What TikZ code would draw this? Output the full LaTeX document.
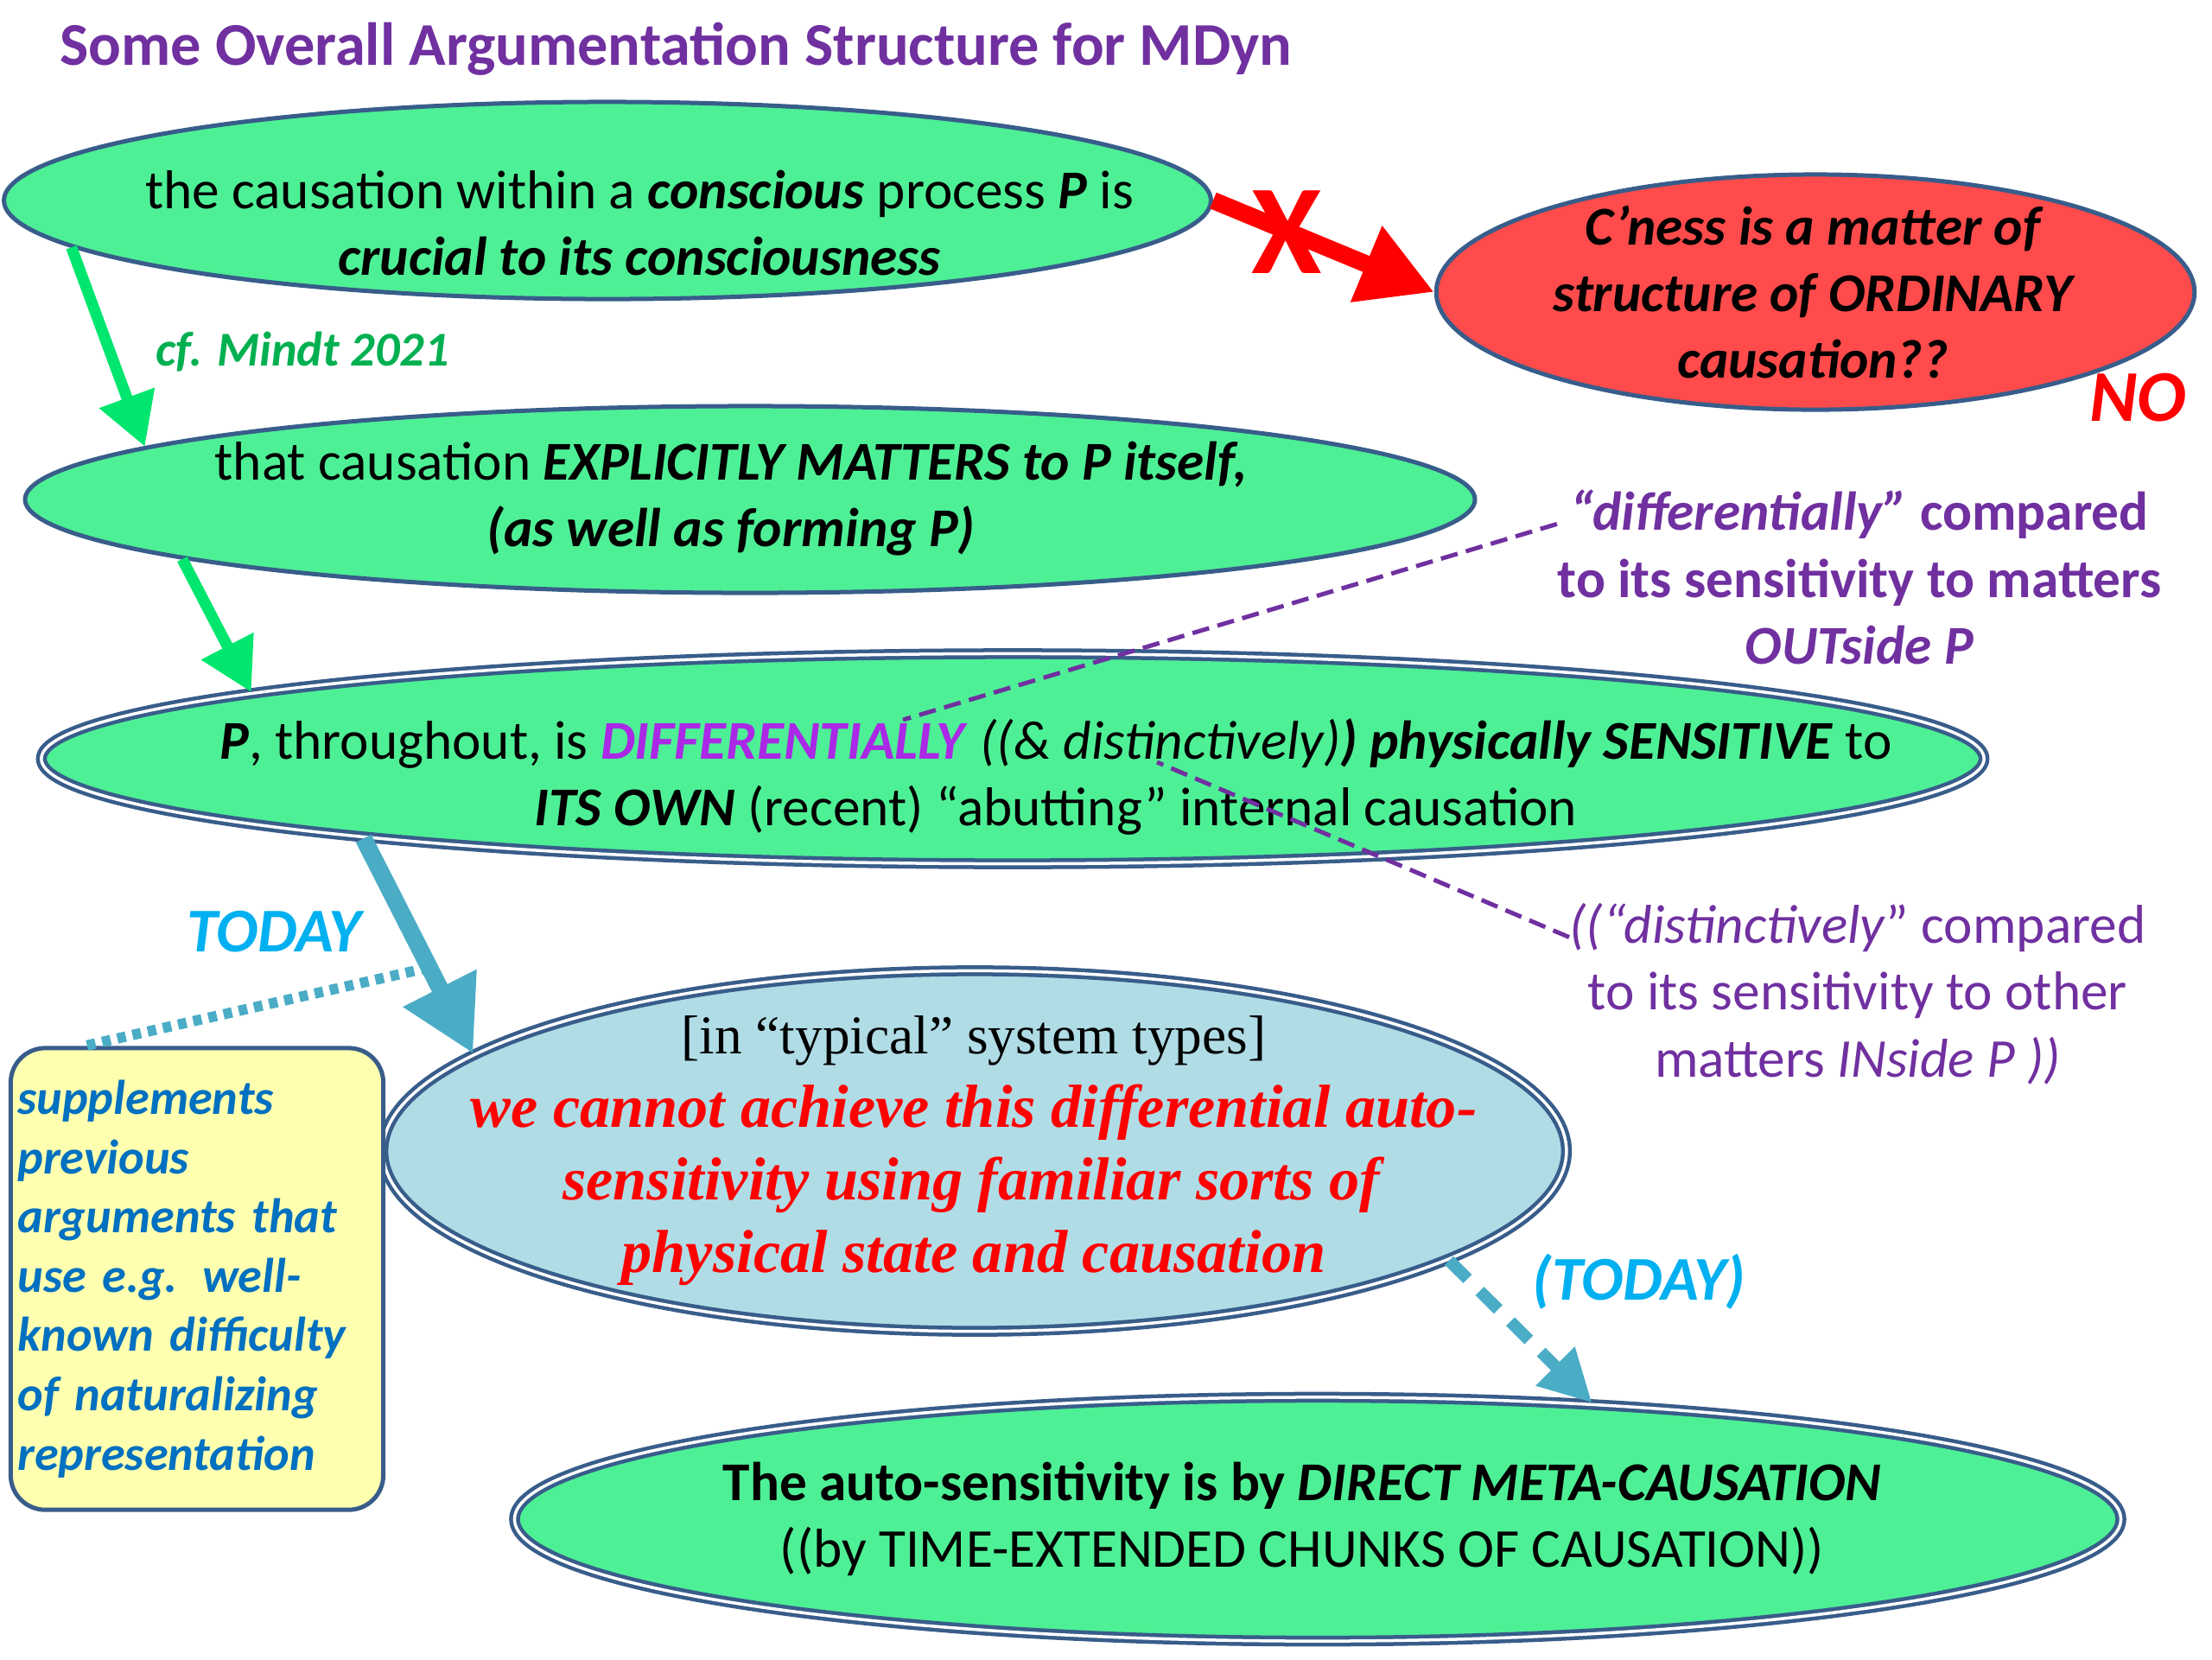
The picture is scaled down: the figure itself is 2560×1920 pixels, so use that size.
\documentclass[tikz,border=0pt]{standalone}
\usepackage{fontspec}
\setmainfont{Carlito}
\newfontfamily\timesfont{Liberation Serif}
\usetikzlibrary{arrows.meta,shapes.geometric}

\definecolor{edgeblue}{RGB}{56,93,138}
\definecolor{greenfill}{RGB}{78,240,150}
\definecolor{redfill}{RGB}{255,75,75}
\definecolor{bluefill}{RGB}{176,220,230}
\definecolor{yellowfill}{RGB}{255,255,176}
\definecolor{notepurple}{RGB}{112,48,160}
\definecolor{violetword}{RGB}{170,40,230}
\definecolor{mindtgreen}{RGB}{0,176,80}
\definecolor{arrowgreen}{RGB}{0,230,110}
\definecolor{arrowblue}{RGB}{75,172,198}
\definecolor{todayblue}{RGB}{0,176,240}
\definecolor{suppblue}{RGB}{0,112,192}

\begin{document}
\begin{tikzpicture}[x=0.01cm,y=-0.01cm,
    ell/.style={ellipse, draw=edgeblue, line width=0.05cm, inner sep=0pt},
    dbl/.style={ellipse, draw=edgeblue, line width=0.045cm, double=white, double distance=0.035cm, inner sep=0pt},
    body/.style={align=center, inner sep=0pt, font=\fontsize{18}{22}\selectfont},
    note/.style={align=center, inner sep=0pt, text=notepurple, font=\fontsize{18}{22}\selectfont},
    bigarrow/.style={line width=0.2cm, -{Triangle[length=0.85cm,width=0.9cm]}},
    greenarrow/.style={draw=arrowgreen, line width=0.13cm, -{Triangle[length=0.6cm,width=0.65cm]}},
    dashline/.style={draw=notepurple, line width=0.05cm, dash pattern=on 0.2cm off 0.1cm}]

\useasboundingbox (0,0) rectangle (2560,1920);

% Title
\node[anchor=west, inner sep=0pt, text=notepurple, font=\fontsize{20}{24}\selectfont\bfseries] (title) at (69,57)
  {Some Overall Argumentation Structure for MDyn};

% Ellipses
\node[ell, fill=greenfill, minimum width=13.96cm, minimum height=2.28cm] (crucial) at (703,232) {};
\node[ell, fill=redfill, minimum width=8.77cm, minimum height=2.72cm] (ordinary) at (2101,338) {};
\node[ell, fill=greenfill, minimum width=16.77cm, minimum height=2.16cm] (matters) at (868,578) {};
\node[dbl, fill=greenfill, minimum width=22.47cm, minimum height=2.43cm] (sensitive) at (1172,878) {};
\node[dbl, fill=bluefill, minimum width=13.69cm, minimum height=4.17cm] (cannot) at (1128,1332) {};
\node[dbl, fill=greenfill, minimum width=18.58cm, minimum height=2.82cm] (metacause) at (1525,1758) {};

% Texts in the ellipses
\node[body] (crucialtxt) at (740,258)
  {the causation within a \textbf{\textit{conscious}} process \textbf{\textit{P}} is\\
   \textbf{\textit{crucial to its consciousness}}};
\node[body, font=\fontsize{18}{22}\selectfont\bfseries\itshape] (ordinarytxt) at (2098,338)
  {C’ness is a matter of\\ structure of ORDINARY\\ causation??};
\node[body] (matterstxt) at (846,577)
  {that causation \textbf{\textit{EXPLICITLY MATTERS to P itself,}}\\
   \textbf{\textit{(as well as forming P)}}};
\node[body] (sensitivetxt) at (1222,899)
  {\textbf{\textit{P}}, throughout, is \textcolor{violetword}{\textbf{\textit{DIFFERENTIALLY}}} \textit{((\& distinctively)}\textbf{\textit{) physically SENSITIVE}} to\\
   \textbf{\textit{ITS OWN}} (recent) “abutting” internal causation};
\node[body, font=\timesfont\fontsize{20}{24}\selectfont] (cannottxt) at (1127,1332)
  {{\fontsize{18}{24}\selectfont [in “typical” system types]}\\
   \textcolor{red}{\textbf{\textit{we cannot achieve this differential auto-}}}\\
   \textcolor{red}{\textbf{\textit{sensitivity using familiar sorts of}}}\\
   \textcolor{red}{\textbf{\textit{physical state and causation}}}};
\node[body] (metacausetxt) at (1507,1758)
  {\textbf{The auto-sensitivity is by \textit{DIRECT META-CAUSATION}}\\
   ((by TIME-EXTENDED CHUNKS OF CAUSATION))};

% Side box
\node[draw=edgeblue, line width=0.05cm, fill=yellowfill, rounded corners=0.4cm,
      minimum width=4.31cm, minimum height=5.34cm, text width=4.15cm, align=left,
      inner xsep=0.08cm, text=suppblue, font=\fontsize{16}{19.5}\selectfont\bfseries\itshape] (supp) at (228,1480)
  {supplements\\ previous\\ arguments that\\ use e.g. well-\\ known difficulty\\ of naturalizing\\ representation};

% Notes
\node[note] (diffnote) at (2152,668)
  {\textbf{\textit{“differentially”} compared}\\
   \textbf{to its sensitivity to matters}\\
   \textbf{\textit{OUTside P}}};
\node[note] (distnote) at (2150,1150)
  {\textit{((“distinctively}” compared\\
   to its sensitivity to other\\
   matters \textit{INside P ))}};

% Arrows
\draw[bigarrow, red] (crucial.east) -- (ordinary.west);
\node[text=red, inner sep=0pt, font=\fontsize{42}{42}\selectfont\bfseries] (cross) at (1489,269) {X};
\node[text=red, inner sep=0pt, font=\fontsize{24}{24}\selectfont\bfseries\itshape] (no) at (2474,460) {NO};

\draw[greenarrow] (crucial.185) -- (matters.175);
\node[anchor=west, inner sep=0pt, text=mindtgreen, font=\fontsize{16}{20}\selectfont\bfseries\itshape] (mindt) at (180,407) {cf. Mindt 2021};
\draw[greenarrow] (matters.186) -- (sensitive.175);

\draw[bigarrow, arrowblue, line width=0.2cm] (sensitive.187) -- coordinate[pos=0.6] (onarrow) (cannot.169);
\node[text=todayblue, inner sep=0pt, font=\fontsize{20.5}{24}\selectfont\bfseries\itshape] (today) at (317,1078) {TODAY};
\draw[draw=arrowblue, line width=0.12cm, dash pattern=on 0.1cm off 0.08cm] (onarrow) -- ([xshift=0.88cm]supp.north west);

\draw[arrowblue, line width=0.14cm, dash pattern=on 0.3cm off 0.2cm, -{Triangle[length=0.6cm,width=0.6cm]}] (cannot.347) -- (metacause.23);
\node[text=todayblue, inner sep=0pt, font=\fontsize{20.5}{24}\selectfont\bfseries\itshape] (today2) at (1897,1483) {(TODAY)};

% Dashed pointers
\draw[dashline] ([yshift=-0.4cm]diffnote.north west) -- (1045,833);
\draw[dashline] ([yshift=-0.4cm]distnote.north west) -- (1339,882);

\end{tikzpicture}
\end{document}
